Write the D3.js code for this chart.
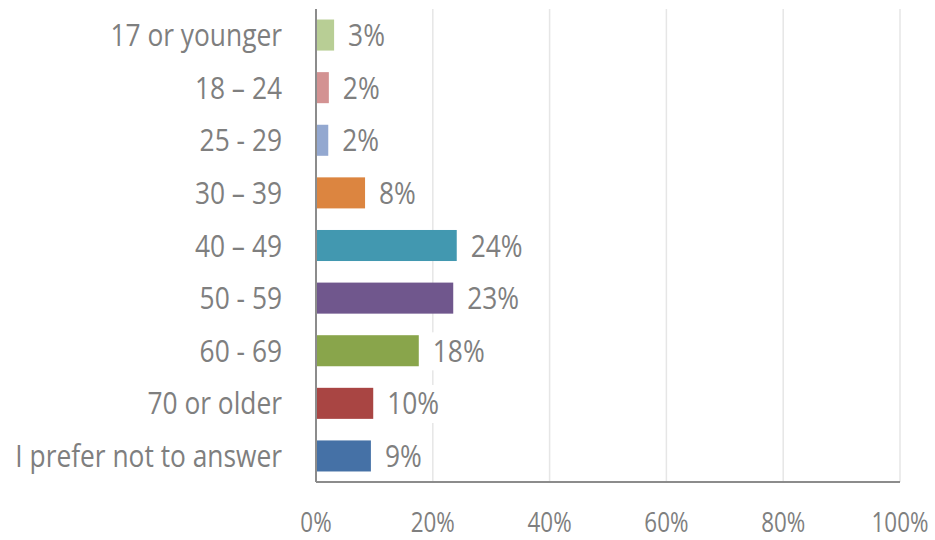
<!DOCTYPE html>
<html>
<head>
<meta charset="utf-8">
<script src="https://cdn.jsdelivr.net/npm/d3@7"></script>
<style>
  body { margin: 0; background: #fff; }
  text { font-family: "Open Sans", "Noto Sans", sans-serif; font-size: 31px; fill: #7f7f7f; }
  text.tick { font-size: 28px; }
</style>
</head>
<body>
<div id="chart"></div>
<script>
// chart data
const categories = ["17 or younger", "18 – 24", "25 - 29", "30 – 39", "40 – 49", "50 - 59", "60 - 69", "70 or older", "I prefer not to answer"];
const values = [3.1, 2.2, 2.1, 8.4, 24.1, 23.5, 17.6, 9.8, 9.4];
const labels = ["3%", "2%", "2%", "8%", "24%", "23%", "18%", "10%", "9%"];
const colors = ["#b8ce95", "#d39292", "#93a8d0", "#dc8540", "#4298b0", "#70578d", "#89a54b", "#a94543", "#4571a6"];
const ticks = [0, 20, 40, 60, 80, 100];

const width = 935, height = 540;
const margin = { top: 9, right: 35, bottom: 58, left: 316 };
const sx = 0.85; // squeeze text horizontally to mimic the condensed face

const svg = d3.select("#chart").append("svg")
  .attr("width", width)
  .attr("height", height);

const x = d3.scaleLinear().domain([0, 100]).range([margin.left, width - margin.right]);
const y = d3.scaleBand().domain(categories).range([margin.top, height - margin.bottom]).paddingInner(0.41).paddingOuter(0.2);

// gridlines
svg.selectAll("line.grid")
  .data(ticks.slice(1))
  .enter()
  .append("line")
  .attr("class", "grid")
  .attr("x1", d => x(d)).attr("x2", d => x(d))
  .attr("y1", margin.top).attr("y2", height - margin.bottom)
  .attr("stroke", "#e6e6e6")
  .attr("stroke-width", 1.5);

// bars
svg.selectAll("rect.bar")
  .data(values)
  .enter()
  .append("rect")
  .attr("class", "bar")
  .attr("x", x(0))
  .attr("y", (d, i) => y(categories[i]))
  .attr("width", d => x(d) - x(0))
  .attr("height", y.bandwidth())
  .attr("fill", (d, i) => colors[i]);

// value labels with white box behind
const vl = svg.selectAll("g.vlabel")
  .data(values)
  .enter()
  .append("g")
  .attr("class", "vlabel")
  .attr("transform", (d, i) => `translate(${x(d) + 14},${y(categories[i]) + y.bandwidth() / 2 + 11}) scale(${sx},1)`);

vl.append("text")
  .text((d, i) => labels[i]);

vl.each(function () {
  const g = d3.select(this);
  const b = g.select("text").node().getBBox();
  g.insert("rect", "text")
    .attr("x", b.x - 7).attr("y", b.y + 4)
    .attr("width", b.width + 14).attr("height", b.height - 4)
    .attr("fill", "#fff");
});

// axis lines
svg.append("line")
  .attr("x1", x(0)).attr("x2", x(0))
  .attr("y1", margin.top).attr("y2", height - margin.bottom)
  .attr("stroke", "#8c8c8c").attr("stroke-width", 2);
svg.append("line")
  .attr("x1", x(0)).attr("x2", x(100))
  .attr("y1", height - margin.bottom).attr("y2", height - margin.bottom)
  .attr("stroke", "#8c8c8c").attr("stroke-width", 2);

// category labels
svg.selectAll("text.cat")
  .data(categories)
  .enter()
  .append("text")
  .attr("class", "cat")
  .attr("transform", d => `translate(${margin.left - 34},${y(d) + y.bandwidth() / 2 + 11}) scale(${sx},1)`)
  .attr("text-anchor", "end")
  .text(d => d);

// x tick labels
svg.selectAll("text.tick")
  .data(ticks)
  .enter()
  .append("text")
  .attr("class", "tick")
  .attr("transform", d => `translate(${x(d)},532) scale(0.8,1)`)
  .attr("text-anchor", "middle")
  .text(d => d + "%");
</script>
</body>
</html>
